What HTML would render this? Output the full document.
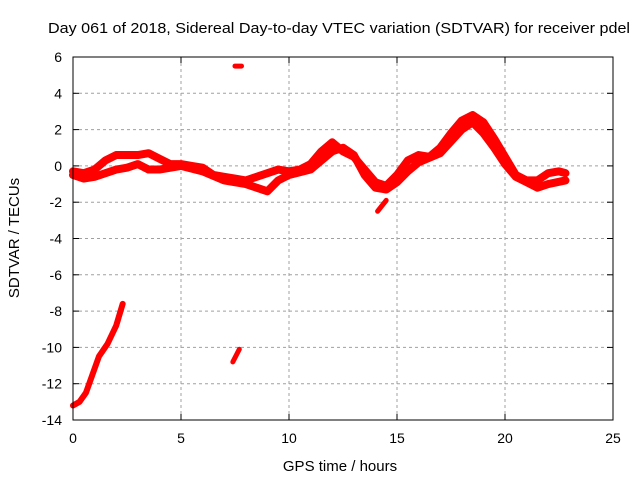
<!DOCTYPE html>
<html><head><meta charset="utf-8"><style>
body{margin:0;background:#fff}
text{font-family:"Liberation Sans",sans-serif;fill:#000}
</style></head><body>
<svg id="c" width="640" height="480" xmlns="http://www.w3.org/2000/svg">
<rect width="640" height="480" fill="#fff"/>
<g id="grid"></g>
<g id="series"></g>
<g id="axes"></g>
<text x="48" y="33" font-size="15" textLength="582" lengthAdjust="spacingAndGlyphs">Day 061 of 2018, Sidereal Day-to-day VTEC variation (SDTVAR) for receiver pdel</text>
<text x="340" y="471" text-anchor="middle" font-size="15">GPS time / hours</text>
<text transform="translate(19,238) rotate(-90)" text-anchor="middle" font-size="15">SDTVAR / TECUs</text>
</svg>
<script>
const xTicks=[0,5,10,15,20,25];
const yTicks=[6,4,2,0,-2,-4,-6,-8,-10,-12,-14];
const strandUpper=[[0,-0.3],[0.5,-0.4],[1,-0.2],[1.5,0.3],[2,0.6],[2.5,0.6],[3,0.6],[3.5,0.7],[4,0.4],[4.5,0.1],[5,0.1],[5.5,0.0],[6,-0.1],[6.5,-0.5],[7,-0.6],[7.5,-0.7],[8,-0.8],[8.5,-0.6],[9,-0.4],[9.5,-0.2],[10,-0.3],[10.5,-0.2],[11,0.1],[11.5,0.8],[12,1.3],[12.5,0.8],[13,0.5],[13.5,-0.2],[14,-0.9],[14.5,-1.1],[15,-0.5],[15.5,0.3],[16,0.6],[16.5,0.5],[17,1.0],[17.5,1.8],[18,2.5],[18.5,2.8],[19,2.4],[19.5,1.5],[20,0.5],[20.5,-0.5],[21,-0.8],[21.5,-0.8],[22,-0.4],[22.5,-0.3],[22.8,-0.4]];
const strandLower=[[0,-0.5],[0.5,-0.7],[1,-0.6],[1.5,-0.4],[2,-0.2],[2.5,-0.1],[3,0.1],[3.5,-0.2],[4,-0.2],[5,0.0],[6,-0.3],[7,-0.8],[8,-1.0],[8.5,-1.2],[9,-1.4],[9.5,-0.8],[10,-0.5],[11,-0.2],[11.5,0.3],[12,0.8],[12.5,1.0],[13,0.6],[13.5,-0.5],[14,-1.2],[14.5,-1.3],[15,-0.9],[15.5,-0.3],[16,0.2],[17,0.7],[18,2.0],[18.5,2.4],[19,1.8],[19.5,1.0],[20,0.1],[20.5,-0.6],[21,-0.9],[21.5,-1.2],[22,-1.0],[22.8,-0.8]];
const segStart=[[0,-13.2],[0.3,-13.0],[0.6,-12.5],[0.9,-11.5],[1.2,-10.5],[1.6,-9.8],[2.0,-8.8],[2.3,-7.6]];
const segMid=[[7.4,-10.8],[7.7,-10.1]];
const segTop=[[7.5,5.5],[7.8,5.5]];
const segDip=[[14.1,-2.5],[14.5,-1.9]];
const X0=73,X1=613,Y0=420,Y1=57;
const sx=v=>X0+(v-0)/25*(X1-X0);
const sy=v=>Y0-(v+14)/20*(Y0-Y1);
const NS="http://www.w3.org/2000/svg";
const grid=document.getElementById('grid'),axes=document.getElementById('axes'),ser=document.getElementById('series');
function mk(tag,attrs,parent){const e=document.createElementNS(NS,tag);for(const k in attrs)e.setAttribute(k,attrs[k]);parent.appendChild(e);return e;}
xTicks.forEach(t=>{const x=sx(t);
 if(t>0&&t<25){const g=mk('line',{x1:x,x2:x,y1:Y1,y2:Y0,stroke:'#a0a0a0','stroke-dasharray':'3,3'},grid);}
 mk('line',{x1:x,x2:x,y1:Y0,y2:Y0-6,stroke:'#000'},axes);mk('line',{x1:x,x2:x,y1:Y1,y2:Y1+6,stroke:'#000'},axes);
 const l=mk('text',{x:x,y:Y0+23,'text-anchor':'middle','font-size':'14'},axes);l.textContent=t;
 });
yTicks.forEach(t=>{const y=sy(t);
 if(t>-14&&t<6){const g=mk('line',{x1:X0,x2:X1,y1:y,y2:y,stroke:'#a0a0a0','stroke-dasharray':'3,3'},grid);}
 mk('line',{x1:X0,x2:X0+6,y1:y,y2:y,stroke:'#000'},axes);mk('line',{x1:X1,x2:X1-6,y1:y,y2:y,stroke:'#000'},axes);
 const l=mk('text',{x:X0-11,y:y+5,'text-anchor':'end','font-size':'14'},axes);l.textContent=t;
 });
const f=mk('rect',{x:X0,y:Y1,width:X1-X0,height:Y0-Y1,fill:'none',stroke:'#000'},axes);

function line(d,w,name){const p=mk('polyline',{points:d.map(q=>sx(q[0])+','+sy(q[1])).join(' '),fill:'none',stroke:'#ff0000','stroke-width':w,'stroke-linejoin':'round','stroke-linecap':'round'},ser);
 }
line(strandUpper,8,'sdtvar-track-upper');
line(strandLower,8,'sdtvar-track-lower');
line(segStart,6,'sdtvar-segment-start');
line(segMid,5,'sdtvar-segment-mid');
line(segTop,5,'sdtvar-segment-top');
line(segDip,5,'sdtvar-segment-dip');
</script>
</body></html>
